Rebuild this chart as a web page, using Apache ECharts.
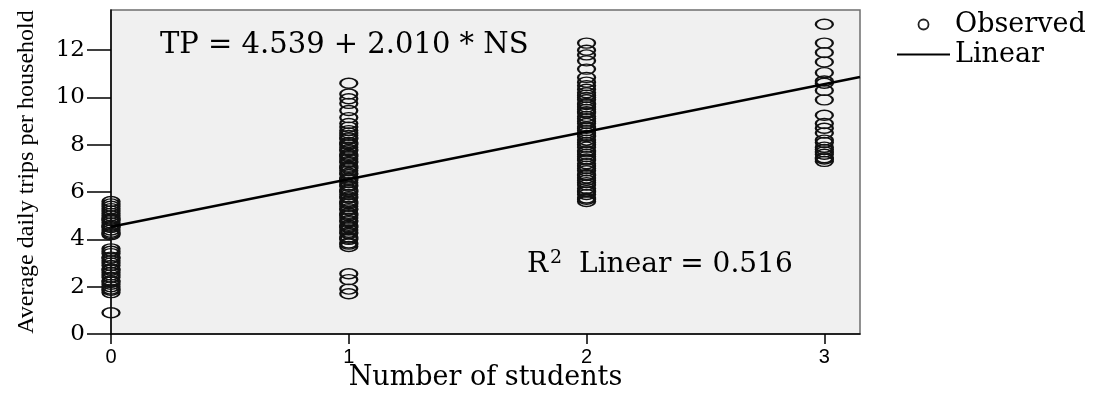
<!DOCTYPE html>
<html>
<head>
<meta charset="utf-8">
<script src="https://cdn.jsdelivr.net/npm/echarts@6/dist/echarts.min.js"></script>
<style>html,body{margin:0;padding:0;background:#fff;}#chart{width:1099px;height:407px;}</style>
</head>
<body>
<div id="chart"></div>
<script>
// ---- data ----
const studentCounts = [0, 1, 2, 3];
const tripsNoStudents = [0.9, 1.75, 1.85, 1.9, 2.0, 2.1, 2.2, 2.25, 2.4, 2.5, 2.6, 2.7, 2.75, 2.9, 3.0, 3.1, 3.2,
  3.25, 3.4, 3.5, 3.6, 4.2, 4.25, 4.3, 4.4, 4.5, 4.55, 4.6, 4.7, 4.8, 4.85, 4.9, 5.0, 5.1, 5.2, 5.3, 5.4, 5.5, 5.6];
const tripsOneStudent = [1.7, 1.9, 2.3, 2.55, 3.7, 3.8, 3.85, 4.0, 4.05, 4.1, 4.25, 4.3, 4.4, 4.5, 4.55, 4.6, 4.75,
  4.8, 4.9, 5.0, 5.05, 5.1, 5.25, 5.3, 5.4, 5.5, 5.55, 5.6, 5.75, 5.8, 5.9, 6.0, 6.05, 6.1, 6.25, 6.3, 6.4, 6.5,
  6.55, 6.6, 6.75, 6.8, 6.9, 7.0, 7.05, 7.1, 7.25, 7.3, 7.4, 7.5, 7.55, 7.6, 7.75, 7.8, 7.9, 8.0, 8.05, 8.1, 8.25,
  8.3, 8.4, 8.5, 8.6, 8.75, 8.9, 9.15, 9.45, 9.75, 9.95, 10.15, 10.6];
const tripsTwoStudents = [5.6, 5.7, 5.75, 5.9, 6.0, 6.05, 6.15, 6.3, 6.4, 6.5, 6.6, 6.7, 6.75, 6.9, 7.0, 7.1, 7.2,
  7.35, 7.4, 7.5, 7.6, 7.7, 7.75, 7.9, 8.0, 8.1, 8.2, 8.35, 8.4, 8.5, 8.6, 8.7, 8.75, 8.9, 9.0, 9.1, 9.2, 9.35,
  9.4, 9.5, 9.6, 9.7, 9.75, 9.9, 10.0, 10.1, 10.2, 10.35, 10.5, 10.65, 10.85, 11.2, 11.55, 11.8, 12.0, 12.3];
const tripsThreeStudents = [7.3, 7.4, 7.45, 7.6, 7.7, 7.8, 7.9, 8.1, 8.2, 8.5, 8.7, 8.9, 9.25, 9.9, 10.3, 10.6,
  10.7, 11.05, 11.5, 11.9, 12.3, 13.1];
const fitIntercept = 4.539;
const fitSlope = 2.010;
const fitXRange = [0, 3.15];
const xTickValues = [0, 1, 2, 3];
const yTickValues = [0, 2, 4, 6, 8, 10, 12];
const equationText = 'TP = 4.539 + 2.010 * NS';
const rSquaredLabel = 'R{sup|2} Linear = 0.516';

// ---- build series data ----
const tripGroups = [tripsNoStudents, tripsOneStudent, tripsTwoStudents, tripsThreeStudents];
const observed = [];
tripGroups.forEach((arr, i) => arr.forEach(v => observed.push([studentCounts[i], v])));
const fitted = fitXRange.map(x => [x, fitIntercept + fitSlope * x]);

const serif = 'DejaVu Serif';
const ellipse = 'path://M0,10 A10,10 0 1,1 20,10 A10,10 0 1,1 0,10 Z';
const lineIcon = 'path://M0,0 M0,4 L53,4 L53,6 L0,6 Z M53,10';

const chart = echarts.init(document.getElementById('chart'));
chart.setOption({
  animation: false,
  backgroundColor: '#ffffff',
  grid: {
    left: 111, top: 10, right: 239, bottom: 73,
    show: true, backgroundColor: '#f0f0f0', borderColor: '#6e6e6e', borderWidth: 1.5
  },
  legend: {
    orient: 'vertical',
    left: 892, top: 6,
    itemWidth: 53, itemHeight: 10, itemGap: 3,
    textStyle: { fontFamily: serif, fontSize: 27, color: '#000', padding: [0, 0, 0, 0] },
    data: [
      { name: 'Observed', icon: 'circle', itemStyle: { color: 'rgba(0,0,0,0)', borderColor: '#222', borderWidth: 1.8 } },
      { name: 'Linear', icon: lineIcon, itemStyle: { color: '#000', borderWidth: 0 } }
    ]
  },
  xAxis: {
    type: 'value', min: 0, max: fitXRange[1], interval: 1,
    name: 'Number of students', nameLocation: 'middle', nameGap: 30, nameMoveOverlap: false,
    nameTextStyle: { fontFamily: serif, fontSize: 27, color: '#000' },
    axisLine: { show: true, onZero: false, lineStyle: { color: '#000', width: 1.5 } },
    axisTick: { show: true, length: 10, customValues: xTickValues, lineStyle: { color: '#000', width: 1.5 } },
    axisLabel: { customValues: xTickValues, margin: 13, fontFamily: 'Liberation Sans', fontSize: 20, color: '#000' },
    splitLine: { show: false }
  },
  yAxis: {
    type: 'value', min: 0, max: 13.7, interval: 2,
    name: 'Average daily trips per household', nameLocation: 'middle', nameGap: 72, nameRotate: 90,
    nameTextStyle: { fontFamily: 'Liberation Serif', fontSize: 24, color: '#000' },
    axisLine: { show: true, onZero: false, lineStyle: { color: '#000', width: 1.5 } },
    axisTick: { show: true, length: 24, customValues: yTickValues, lineStyle: { color: '#000', width: 1.5 } },
    axisLabel: { customValues: yTickValues, margin: 26, fontFamily: serif, fontSize: 23, color: '#000' },
    splitLine: { show: false }
  },
  graphic: [
    { type: 'text', left: 160, top: 31, z: 100,
      style: { text: equationText, font: '29px "DejaVu Serif"', fill: '#000' } },
    { type: 'text', left: 527, top: 249, z: 100,
      style: { text: rSquaredLabel, font: '28px "DejaVu Serif"', fill: '#000',
        rich: { sup: { fontFamily: serif, fontSize: 19, verticalAlign: 'top', padding: [0, 8, 12, 2], fill: '#000' } } } }
  ],
  series: [
    {
      name: 'Observed', type: 'scatter', clip: false,
      symbol: ellipse, symbolSize: [17, 10],
      itemStyle: { color: 'rgba(0,0,0,0)', borderColor: '#111', borderWidth: 1.8, opacity: 1 },
      data: observed, z: 2
    },
    {
      name: 'Linear', type: 'line', symbol: 'none', showSymbol: false,
      itemStyle: { color: '#000' },
      lineStyle: { color: '#000', width: 2.5 },
      data: fitted, z: 3
    }
  ]
});
</script>
</body>
</html>
